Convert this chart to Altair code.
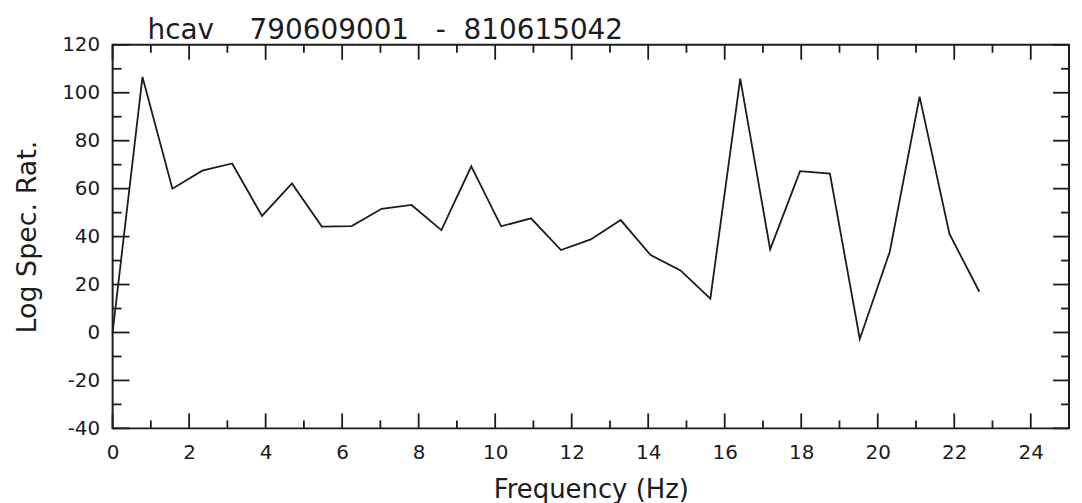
import altair as alt
import pandas as pd

# Frequency bins (Hz) and log spectral ratio values
freq = [0.0, 0.781, 1.563, 2.344, 3.125, 3.906, 4.688, 5.469, 6.25, 7.031,
        7.813, 8.594, 9.375, 10.156, 10.938, 11.719, 12.5, 13.281, 14.063, 14.844,
        15.625, 16.406, 17.188, 17.969, 18.75, 19.531, 20.313, 21.094, 21.875, 22.656]
log_spec_ratio = [0.0, 106.6, 60.0, 67.5, 70.5, 48.6, 62.2, 44.2, 44.4, 51.6,
                  53.2, 42.7, 69.3, 44.3, 47.6, 34.4, 38.8, 46.9, 32.3, 25.9,
                  14.1, 105.9, 34.7, 67.3, 66.3, -2.7, 33.6, 98.4, 41.1, 17.0]

x_major = [0, 2, 4, 6, 8, 10, 12, 14, 16, 18, 20, 22, 24]
x_minor = [1, 3, 5, 7, 9, 11, 13, 15, 17, 19, 21, 23]
y_major = [-40, -20, 0, 20, 40, 60, 80, 100, 120]
y_minor = [-30, -10, 10, 30, 50, 70, 90, 110]

title_text = "hcav\u00a0\u00a0\u00a0\u00a0790609001\u00a0\u00a0\u00a0-\u00a0\u00a0810615042"

W, H = 960, 385
INK = "#1c1c1c"
FONT = "DejaVu Sans"

xscale = alt.Scale(domain=[0, 25], nice=False, zero=False)
yscale = alt.Scale(domain=[-40, 120], nice=False, zero=False)

xaxis = alt.Axis(values=x_major, title="Frequency (Hz)", ticks=False,
                 domain=False, grid=False, labelPadding=14,
                 labelFontSize=20, titleFontSize=26, titlePadding=14,
                 labelFlush=False)
yaxis = alt.Axis(values=y_major, title="Log Spec. Rat.", ticks=False,
                 domain=False, grid=False, labelPadding=13,
                 labelFontSize=20, titleFontSize=27, titlePadding=20,
                 labelExpr="'' + datum.value")

df = pd.DataFrame({"freq": freq, "val": log_spec_ratio})

line = alt.Chart(df).mark_line(color=INK, strokeWidth=1.8).encode(
    x=alt.X("freq:Q", scale=xscale, axis=xaxis),
    y=alt.Y("val:Q", scale=yscale, axis=yaxis),
)

def xticks(vals, y0, y1):
    return alt.Chart(pd.DataFrame({"t": vals})).mark_rule(color=INK, strokeWidth=1.8).encode(
        x=alt.X("t:Q", scale=xscale, axis=xaxis),
        y=alt.value(y0), y2=alt.value(y1))

def yticks(vals, x0, x1):
    return alt.Chart(pd.DataFrame({"t": vals})).mark_rule(color=INK, strokeWidth=1.8).encode(
        y=alt.Y("t:Q", scale=yscale, axis=yaxis),
        x=alt.value(x0), x2=alt.value(x1))

chart = alt.layer(
    line,
    xticks(x_major, H, H - 15), xticks(x_minor, H, H - 8),
    xticks(x_major, 0, 15), xticks(x_minor, 0, 8),
    yticks(y_major, 0, 17), yticks(y_minor, 0, 9),
    yticks(y_major, W, W - 16), yticks(y_minor, W, W - 8),
).properties(
    width=W, height=H,
    title=alt.TitleParams(title_text, anchor="start", frame="group", dx=35, offset=-10,
                          fontSize=28, font=FONT, fontWeight="normal", color=INK),
    autosize=alt.AutoSizeParams(type="none"),
    padding={"left": 105, "top": 36, "right": 5, "bottom": 85},
    background="white",
).configure_view(
    stroke=INK, strokeWidth=2
).configure_axis(
    labelFont=FONT, titleFont=FONT, labelColor=INK, titleColor=INK,
    titleFontWeight="normal"
)

chart.save("out.html", embed_options={"renderer": "svg", "actions": False})
